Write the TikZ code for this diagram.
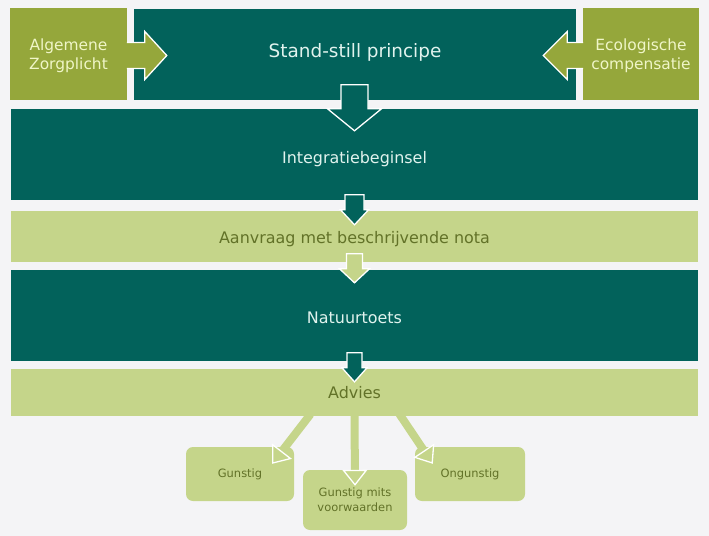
\documentclass[tikz,border=0pt]{standalone}
\usepackage{fontspec}
\setmainfont{DejaVu Sans}
\usetikzlibrary{positioning, arrows.meta, calc}

\definecolor{darkteal}{RGB}{2,98,91}
\definecolor{olivegr}{RGB}{149,167,59}
\definecolor{palegr}{RGB}{197,213,138}
\definecolor{tealtext}{RGB}{225,243,238}
\definecolor{olivetext}{RGB}{240,246,200}
\definecolor{paletext}{RGB}{98,114,40}
\definecolor{bgcol}{RGB}{244,244,246}

\begin{document}
\begin{tikzpicture}[
    x=1bp, y=-1bp,
    box/.style={rectangle, inner sep=0pt, align=center},
    tealbox/.style={box, fill=darkteal, text=tealtext, font=\fontsize{16}{20}\selectfont},
    olivebox/.style={box, fill=olivegr, text=olivetext, font=\fontsize{15.5}{19}\selectfont},
    palebox/.style={box, fill=palegr, text=paletext, font=\fontsize{16}{20}\selectfont},
    optbox/.style={box, fill=palegr, text=paletext, rounded corners=7bp, font=\fontsize{11.5}{15}\selectfont},
    blk/.style={draw=white, line width=1.3bp, line join=miter},
    outarrow/.style={draw=palegr, line width=8bp, -{Triangle[length=16bp, width=25bp, color=white, fill=palegr, line width=1.3bp]}}
]
    \useasboundingbox (0,0) rectangle (709,536);
    \fill[bgcol] (0,0) rectangle (709,536);

    % top row
    \node[olivebox, minimum width=117bp, minimum height=92bp, text depth=0bp] (alg) at (68.5,54) {Algemene\\Zorgplicht};
    \node[tealbox, minimum width=442bp, minimum height=91bp, font=\fontsize{18.5}{22}\selectfont,
        text height=14bp, text depth=8.5bp] (stand) at (355,54.5) {Stand-still principe};
    \node[olivebox, minimum width=116bp, minimum height=92bp, text depth=0bp] (eco) at (641,54) {Ecologische\\compensatie};

    % main bands
    \node[tealbox, minimum width=687bp, minimum height=91bp, text height=22bp, text depth=4bp] (integ) at (354.5,154.5) {Integratiebeginsel};
    \node[palebox, minimum width=687bp, minimum height=51bp, text height=18bp, text depth=4bp] (aanvraag) at (354.5,236.5) {Aanvraag met beschrijvende nota};
    \node[tealbox, minimum width=687bp, minimum height=91bp, text height=20bp, text depth=4bp] (natuur) at (354.5,315.5) {Natuurtoets};
    \node[palebox, minimum width=687bp, minimum height=47bp] (advies) at (354.5,392.5) {Advies};

    % outcomes
    \node[optbox, minimum width=108bp, minimum height=54bp] (gun) at (240,474) {Gunstig};
    \node[optbox, minimum width=104bp, minimum height=60bp] (mits) at (355,500) {Gunstig mits\\voorwaarden};
    \node[optbox, minimum width=110bp, minimum height=54bp] (ongun) at (470,474) {Ongunstig};

    % block arrows into stand-still
    \filldraw[blk, fill=olivegr] ($(stand.west)+(-7,-12)$) -- ++(18,0) -- ++(0,-11) -- ++(22,24)
        -- ++(-22,24) -- ++(0,-11) -- ++(-18,0);
    \filldraw[blk, fill=olivegr] ($(stand.east)+(7,-12)$) -- ++(-16,0) -- ++(0,-11) -- ++(-24,24)
        -- ++(24,24) -- ++(0,-11) -- ++(16,0);

    % block arrows down
    \filldraw[blk, fill=darkteal] ($(integ.north)+(-13.5,-24)$) -- ++(27,0) -- ++(0,24) -- ++(13.5,0)
        -- ++(-27,22) -- ++(-27,-22) -- ++(13.5,0) -- cycle;
    \filldraw[blk, fill=darkteal] ($(aanvraag.north)+(-9.5,-16)$) -- ++(19,0) -- ++(0,15) -- ++(4.5,0)
        -- ++(-14,15) -- ++(-14,-15) -- ++(4.5,0) -- cycle;
    \filldraw[blk, fill=palegr] ($(natuur.north)+(-8,-16)$) -- ++(16,0) -- ++(0,15) -- ++(7,0)
        -- ++(-15,14) -- ++(-15,-14) -- ++(7,0) -- cycle;
    \filldraw[blk, fill=darkteal] ($(advies.north)+(-7.5,-16)$) -- ++(15,0) -- ++(0,15) -- ++(5,0)
        -- ++(-12.5,14) -- ++(-12.5,-14) -- ++(5,0) -- cycle;

    % advies to outcomes
    \draw[outarrow] ($(advies.south)+(-44,-2)$) -- ($(gun.north east)+(-22,17)$);
    \draw[outarrow] ($(advies.south)+(0,-2)$) -- ($(mits.north)+(0,16)$);
    \draw[outarrow] ($(advies.south)+(45,-2)$) -- ($(ongun.north west)+(18,17)$);
\end{tikzpicture}
\end{document}
